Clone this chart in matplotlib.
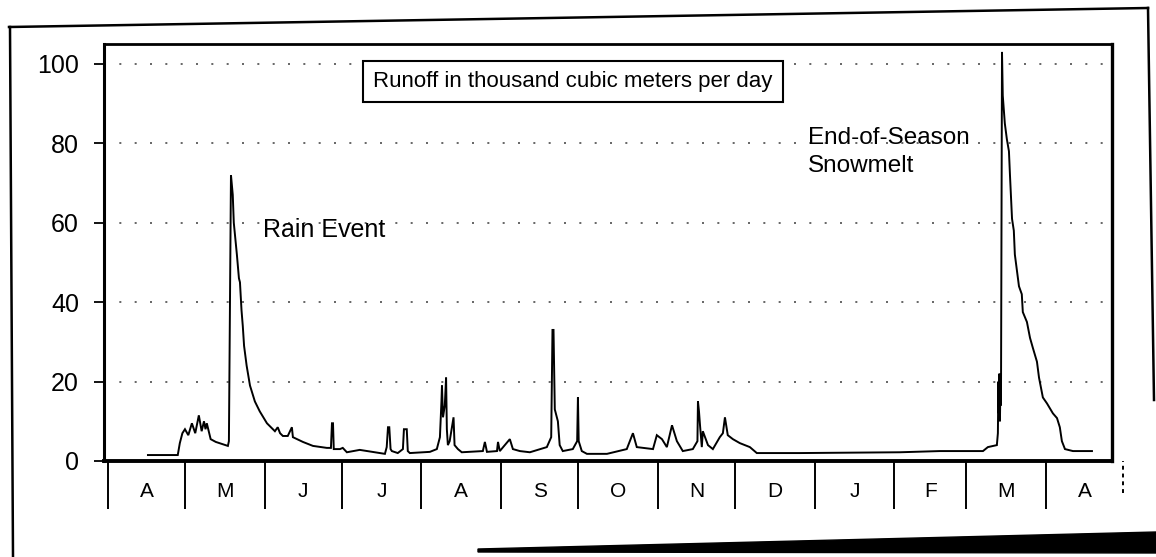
import numpy as np
import matplotlib
matplotlib.use("Agg")
import matplotlib.pyplot as plt
from matplotlib.lines import Line2D
from matplotlib.patches import Polygon

# runoff: day counted from 1 April, value in thousand m3/day
days = [15.6, 27.2, 28.0, 29.0, 30.0, 31.3, 32.7, 34.0, 35.4, 36.5, 37.4, 38.0,
        38.5, 40.0, 42.0, 46.7, 47.1, 47.9, 48.3, 48.6, 49.0, 50.2, 51.0, 51.4,
        52.0, 52.5, 53.0, 54.0, 55.3, 57.2, 59.1, 61.9, 65.0, 66.1, 67.0, 68.1,
        70.0, 71.6, 72.0, 75.9, 79.8, 85.2, 86.8, 87.2, 87.6, 87.9, 90.3, 91.4,
        93.0, 98.0, 107.8, 108.5, 109.0, 109.5, 110.0, 110.5, 112.8, 114.8, 115.2,
        116.3, 116.7, 117.5, 125.3, 128.0, 129.2, 129.8, 130.0, 130.4, 131.1, 131.6,
        131.9, 132.3, 133.0, 134.5, 134.9, 136.2, 137.7, 145.9, 146.7, 147.5, 151.4,
        151.8, 152.5, 156.4, 157.6, 160.3, 164.2, 170.8, 172.5, 173.0, 173.4, 173.9,
        175.1, 175.8, 177.0, 180.9, 182.6, 182.9, 183.2, 184.4, 186.4, 194.2, 201.9,
        204.3, 205.8, 212.1, 213.6, 215.6, 217.5, 219.5, 221.4, 223.7, 227.6, 229.4,
        229.6, 230.0, 230.4, 231.1, 231.5, 233.5, 235.4, 238.1, 239.3, 240.1, 241.2,
        243.2, 245.9, 249.8, 252.5, 269.3, 308.2, 323.7, 340.5, 342.4, 345.9, 346.3,
        346.5, 346.7, 346.9, 347.1, 347.3, 347.5, 347.9, 348.2, 349.0, 349.8, 350.6,
        351.0, 351.8, 352.5, 352.9, 353.7, 354.5, 355.6, 356.0, 357.6, 358.8, 359.9,
        361.5, 362.3, 363.8, 365.4, 367.7, 369.3, 370.4, 371.2, 372.4, 375.5, 382.9]
runoff = [1.5, 1.5, 4.5, 7.0, 8.0, 6.5, 9.5, 7.0, 11.5, 7.5, 10.0, 8.0,
          9.5, 5.5, 4.8, 3.8, 5.0, 72.0, 69.0, 67.0, 60.0, 52.0, 46.0, 45.0,
          38.0, 34.0, 29.0, 24.0, 19.0, 15.0, 12.5, 9.5, 7.5, 8.5, 7.0, 6.3,
          6.3, 8.5, 6.0, 4.8, 3.8, 3.3, 3.3, 9.5, 9.5, 3.0, 3.0, 3.3,
          2.2, 2.8, 1.8, 3.5, 8.5, 8.5, 3.0, 2.5, 2.0, 3.0, 8.0,
          8.0, 2.5, 2.0, 2.3, 3.0, 6.0, 15.0, 19.0, 11.0, 14.0, 21.0,
          8.0, 4.0, 5.0, 11.0, 4.0, 3.0, 2.2, 2.5, 4.8, 2.3, 2.5,
          4.8, 2.5, 5.5, 3.0, 2.5, 2.2, 3.5, 6.0, 33.0, 33.0, 13.0,
          10.0, 4.0, 2.5, 3.0, 5.0, 16.0, 5.0, 2.5, 1.8, 1.8, 3.0,
          7.0, 3.5, 3.0, 6.5, 5.5, 3.5, 9.0, 5.0, 2.5, 3.0, 5.0,
          15.0, 12.5, 9.0, 3.5, 7.5, 4.0, 3.0, 6.0, 7.0, 11.0, 6.5,
          5.5, 4.5, 3.5, 2.0, 2.0, 2.2, 2.5, 2.5, 3.5, 4.0, 7.0,
          20.0, 12.0, 22.0, 10.0, 20.0, 14.0, 103.0, 92.0, 85.0, 81.0, 78.0,
          72.0, 61.0, 58.0, 52.0, 48.0, 44.0, 42.0, 37.5, 35.0, 31.0, 28.5,
          25.0, 21.0, 16.0, 14.5, 12.0, 10.8, 8.5, 5.0, 3.0, 2.5, 2.5]

month_labels = ["A", "M", "J", "J", "A", "S", "O", "N", "D", "J", "F", "M", "A"]
month_lengths = [30, 31, 30, 31, 31, 30, 31, 30, 31, 31, 28, 31, 30]
y_ticks = [0, 20, 40, 60, 80, 100]

W, H = 1156, 557
FONT = "Liberation Sans"


def px(x, y):
    # figure pixel -> figure fraction
    return x / W, 1 - y / H


def main():
    fig = plt.figure(figsize=(W / 100, H / 100), dpi=100)
    fig.patch.set_facecolor("white")

    # outer scanned frame
    for (x0, y0), (x1, y1) in [((10, 27), (13, 557)), ((9, 27), (1148, 8)),
                               ((1148, 8), (1154, 400))]:
        a, b = px(x0, y0)
        c, d = px(x1, y1)
        fig.add_artist(Line2D([a, c], [b, d], color="black", lw=1.8,
                              transform=fig.transFigure))
    bar = [px(478, 549), px(1156, 532), px(1156, 553), px(478, 552)]
    fig.add_artist(Polygon(bar, closed=True, color="black",
                           transform=fig.transFigure))

    l, t = px(104, 44)
    r, b = px(1112, 461)
    ax = fig.add_axes([l, b, r - l, t - b])

    ax.plot(days, runoff, color="black", lw=1.4, solid_joinstyle="miter")

    ax.set_xlim(-1.5, 390.7)
    ax.set_ylim(0, 105)

    for y in y_ticks[1:]:
        ax.axhline(y, color="0.3", lw=1.2, ls=(0, (1.2, 8)), zorder=0)

    ax.set_yticks(y_ticks)
    ax.set_yticklabels([str(v) for v in y_ticks], fontsize=18, family=FONT)
    ax.tick_params(axis="y", direction="out", length=7, width=1.3, pad=11)
    ax.set_xticks([])

    for side, w in [("left", 2.2), ("bottom", 2.8), ("top", 2.0), ("right", 2.4)]:
        ax.spines[side].set_linewidth(w)

    # month dividers and labels under the axis
    bounds = np.concatenate([[0], np.cumsum(month_lengths)])
    ax.vlines(bounds[:-1], -12, 0, color="black", lw=1.4, clip_on=False)
    ax.vlines(bounds[-1], -8, 0, color="black", lw=1.4, ls=(0, (2, 2)),
              clip_on=False)
    mids = (bounds[:-1] + bounds[1:]) / 2
    for m, lab in zip(mids, month_labels):
        ax.text(m, -7.6, lab, ha="center", va="center", fontsize=15,
                family=FONT, clip_on=False)

    ax.text(181, 95.5, "Runoff in thousand cubic meters per day", ha="center",
            va="center", fontsize=16, family=FONT,
            bbox=dict(boxstyle="square,pad=0.45", fc="white", ec="black", lw=1.5))
    ax.text(60.3, 58.2, "Rain Event", ha="left", va="center", fontsize=18,
            family=FONT)
    ax.text(272.4, 84, "End-of-Season\nSnowmelt", ha="left", va="top",
            fontsize=17.5, family=FONT, linespacing=1.3)

    fig.savefig("out.png", dpi=100)


if __name__ == "__main__":
    main()
